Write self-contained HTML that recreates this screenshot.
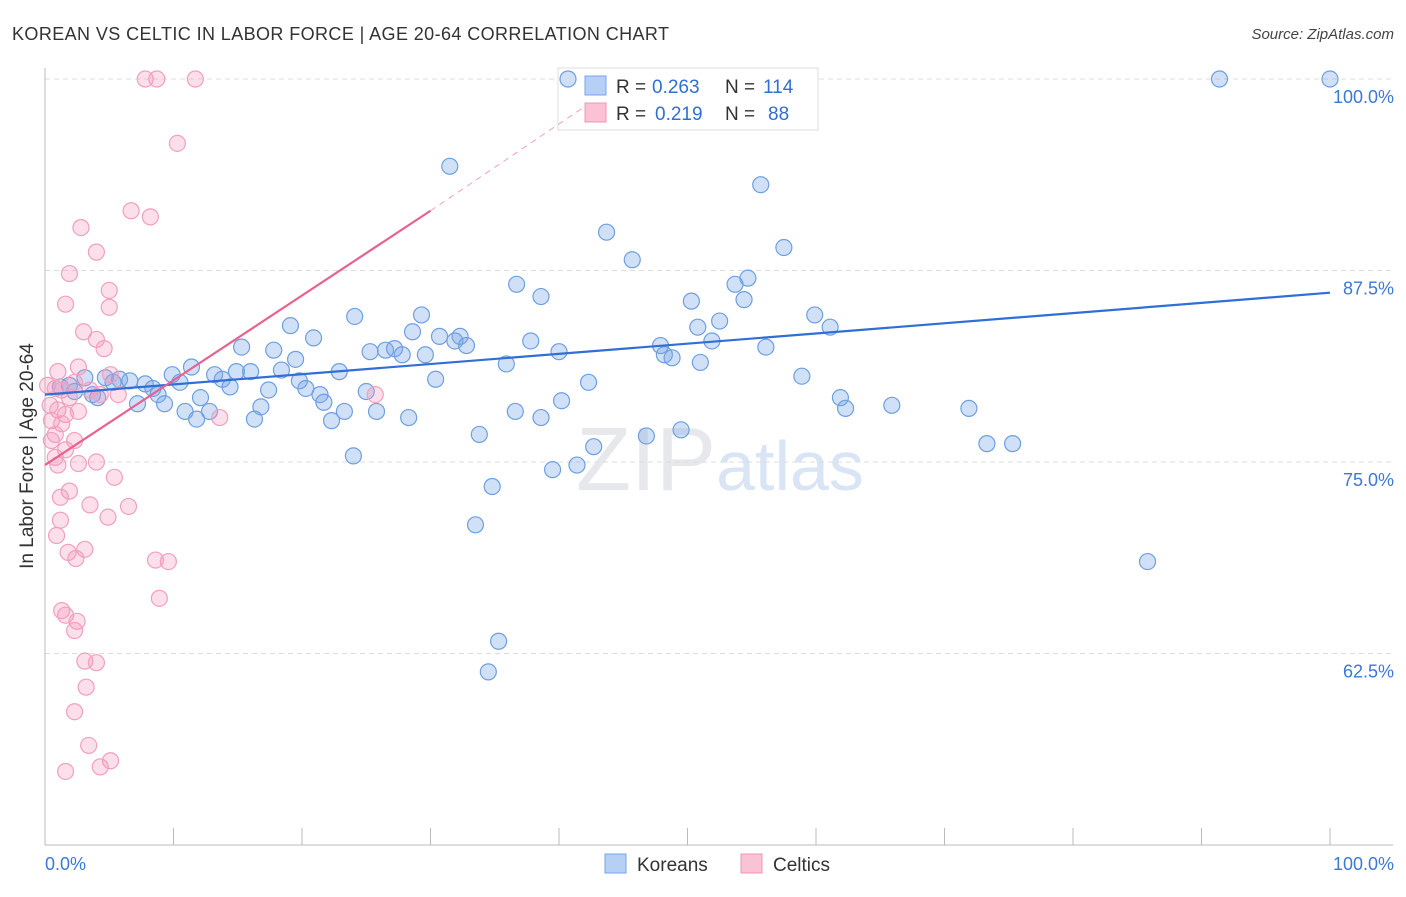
<!DOCTYPE html>
<html><head><meta charset="utf-8"><style>
body{margin:0;background:#fff;font-family:"Liberation Sans",sans-serif}
svg text{font-family:"Liberation Sans",sans-serif}
</style></head><body>
<svg id="chart" width="1406" height="892">
<text x="12" y="40" font-size="18" fill="#333" textLength="657">KOREAN VS CELTIC IN LABOR FORCE | AGE 20-64 CORRELATION CHART</text>
<text x="1394" y="39" font-size="15" fill="#444" font-style="italic" text-anchor="end">Source: ZipAtlas.com</text>
<text x="720" y="490" font-size="90" fill="#e6e8eb" text-anchor="middle" font-family="Liberation Serif">ZIP<tspan fill="#d9e5f4" font-family="Liberation Sans" font-size="70">atlas</tspan></text>
<g id="grid"></g><g id="axes"></g>
<g>
<rect x="558" y="68" width="260" height="62" fill="#fff" stroke="#ddd"/>
<rect x="585" y="76" width="21" height="19" fill="#b5cff5" stroke="#7aa6e6"/>
<rect x="585" y="103" width="21" height="19" fill="#f9c3d4" stroke="#f095b4"/>
<text y="93" font-size="19" fill="#333"><tspan x="616">R =</tspan><tspan x="652" fill="#2f6fd6">0.263</tspan><tspan x="725">N =</tspan><tspan x="763" fill="#2f6fd6">114</tspan></text>
<text y="120" font-size="19" fill="#333"><tspan x="616">R =</tspan><tspan x="655" fill="#2f6fd6">0.219</tspan><tspan x="725">N =</tspan><tspan x="768" fill="#2f6fd6">88</tspan></text>
</g>
<g id="pts"></g><g id="trends"></g>
<text x="33" y="456" font-size="19" fill="#333" text-anchor="middle" transform="rotate(-90 33 456)">In Labor Force | Age 20-64</text>
<text x="45" y="870" font-size="18" fill="#3b78d8">0.0%</text>
<text x="1394" y="870" font-size="18" fill="#3b78d8" text-anchor="end">100.0%</text>
<g>
<rect x="605" y="854" width="21" height="19" fill="#b5cff5" stroke="#7aa6e6"/>
<text x="637" y="871" font-size="19" fill="#333">Koreans</text>
<rect x="741" y="854" width="21" height="19" fill="#f9c3d4" stroke="#f095b4"/>
<text x="773" y="871" font-size="19" fill="#333">Celtics</text>
</g>
</svg>
<script>
const yTicks=[100,87.5,75,62.5];
const yTickLabels=["100.0%","87.5%","75.0%","62.5%"];
const korX=[40.7,91.4,100,31.5,55.7,43.7,57.5,45.7,54.7,53.7,36.7,38.6,50.3,54.4,24.1,29.3,59.9,19.1,52.5,50.8,61.1,28.6,30.7,32.3,20.9,31.9,32.8,37.8,51.9,15.3,47.9,56.1,17.8,25.3,26.5,27.2,27.8,29.6,40.0,48.2,48.8,51.0,19.5,11.4,35.9,9.9,13.2,14.9,16.0,18.4,22.9,58.9,4.7,5.8,6.6,10.5,13.8,19.8,30.4,42.3,3.1,5.3,7.8,8.4,14.4,17.4,20.3,25.0,1.2,1.9,2.3,3.7,4.1,8.8,21.4,12.1,40.2,61.9,7.2,9.3,21.7,65.9,62.3,71.9,10.9,12.8,16.8,23.3,25.8,36.6,38.6,11.8,16.3,28.3,22.3,33.8,46.8,49.5,42.7,73.3,75.3,24.0,41.4,39.5,34.8,33.5,85.8,35.3,34.5];
const korY=[100,100,100,94.3,93.1,90.0,89.0,88.2,87.0,86.6,86.6,85.8,85.5,85.6,84.5,84.6,84.6,83.9,84.2,83.8,83.8,83.5,83.2,83.2,83.1,82.9,82.6,82.9,82.9,82.5,82.6,82.5,82.3,82.2,82.3,82.4,82.0,82.0,82.2,82.0,81.8,81.5,81.7,81.2,81.4,80.7,80.7,80.9,80.9,81.0,80.9,80.6,80.5,80.4,80.3,80.2,80.4,80.3,80.4,80.2,80.5,80.2,80.1,79.8,79.9,79.7,79.8,79.6,79.9,80.0,79.6,79.4,79.2,79.4,79.4,79.2,79.0,79.2,78.8,78.8,78.9,78.7,78.5,78.5,78.3,78.3,78.6,78.3,78.3,78.3,77.9,77.8,77.8,77.9,77.7,76.8,76.7,77.1,76.0,76.2,76.2,75.4,74.8,74.5,73.4,70.9,68.5,63.3,61.3];
const celX=[7.8,8.7,11.7,10.3,6.7,8.2,2.8,4.0,1.9,5.0,1.6,5.0,3.0,4.0,4.6,2.6,1.0,5.1,0.2,0.8,1.3,2.3,3.5,5.7,4.3,25.7,1.9,0.4,1.0,1.6,0.5,1.3,13.6,2.6,0.8,2.3,0.5,1.6,0.8,4.0,2.6,1.0,5.4,1.9,1.2,3.5,6.5,4.9,1.2,0.9,1.8,3.1,2.4,8.6,9.6,8.9,1.3,1.6,2.5,2.3,3.1,4.0,3.2,2.3,3.4,5.1,4.3,1.6];
const celY=[100,100,100,95.8,91.4,91.0,90.3,88.7,87.3,86.2,85.3,85.1,83.5,83.0,82.4,81.2,80.9,80.7,80.0,79.8,79.7,80.2,79.7,79.4,79.4,79.4,79.2,78.7,78.4,78.1,77.7,77.5,77.9,78.3,76.8,76.4,76.4,75.8,75.3,75.0,74.9,74.8,74.0,73.1,72.7,72.2,72.1,71.4,71.2,70.2,69.1,69.3,68.7,68.6,68.5,66.1,65.3,65.0,64.6,64.0,62.0,61.9,60.3,58.7,56.5,55.5,55.1,54.8];
const korTrend=[[0,79.4],[100,86.05]];
const celTrend=[[0,74.8],[30,91.4]];
const celTrendExt=[[30,91.4],[42,98.2]];
const NS='http://www.w3.org/2000/svg';
const X=v=>45+v*12.85, Y=v=>79+(100-v)*15.32;
function mk(t,a,p){const e=document.createElementNS(NS,t);for(const k in a)e.setAttribute(k,a[k]);p.appendChild(e);return e;}
const grid=document.getElementById('grid'),axes=document.getElementById('axes'),pts=document.getElementById('pts'),tr=document.getElementById('trends');
yTicks.forEach((t,i)=>{
 const l=mk('line',{x1:45,x2:1393,y1:Y(t),y2:Y(t),stroke:'#ddd','stroke-dasharray':'5,4'},grid);
 
 
 const tx=mk('text',{x:1394,y:Y(t)+24,'font-size':18,fill:'#3b78d8','text-anchor':'end'},grid);
 tx.textContent=yTickLabels[i];
 
 
});
const ax=mk('line',{x1:45,x2:1393,y1:845,y2:845,stroke:'#bbb'},axes);


const ay=mk('line',{x1:45,x2:45,y1:68,y2:845,stroke:'#bbb'},axes);


for(let i=0;i<=10;i++){const t=mk('line',{x1:X(i*10),x2:X(i*10),y1:828,y2:845,stroke:'#bbb'},axes);
 
 }
korX.forEach((v,i)=>{const c=mk('circle',{cx:X(v),cy:Y(korY[i]),r:8,fill:'rgba(120,165,230,0.35)',stroke:'#6f9fe0','stroke-width':1.2},pts);
 
 });
celX.forEach((v,i)=>{const c=mk('circle',{cx:X(v),cy:Y(celY[i]),r:8,fill:'rgba(245,150,185,0.3)',stroke:'#f0a0bd','stroke-width':1.2},pts);
 
 });
const k=mk('line',{x1:X(korTrend[0][0]),y1:Y(korTrend[0][1]),x2:X(korTrend[1][0]),y2:Y(korTrend[1][1]),stroke:'#2f6fd6','stroke-width':2.2},tr);


const c1=mk('line',{x1:X(celTrend[0][0]),y1:Y(celTrend[0][1]),x2:X(celTrend[1][0]),y2:Y(celTrend[1][1]),stroke:'#e8628f','stroke-width':2.2},tr);


const c2=mk('line',{x1:X(celTrendExt[0][0]),y1:Y(celTrendExt[0][1]),x2:X(celTrendExt[1][0]),y2:Y(celTrendExt[1][1]),stroke:'#f0a0bd','stroke-width':1,'stroke-dasharray':'6,5'},tr);


</script>
</body></html>
